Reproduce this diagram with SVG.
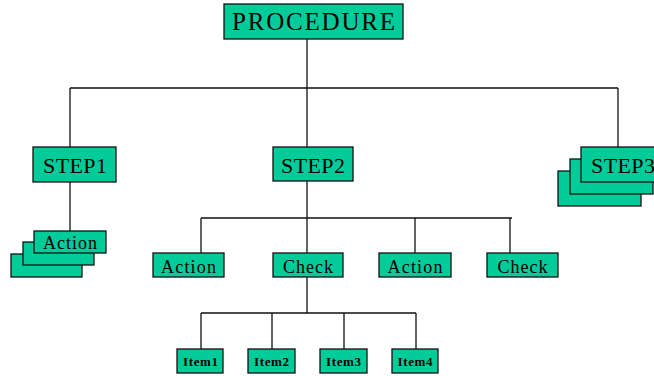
<svg xmlns="http://www.w3.org/2000/svg" width="654" height="376" viewBox="0 0 654 376">
<style>
.b{fill:#00cc99;stroke:#111;stroke-width:1.3}
.c{fill:none;stroke:#111;stroke-width:1.3}
text{font-family:"Liberation Serif","Times New Roman",serif;fill:#000;text-anchor:middle}
.t1{font-size:25px}
.t2{font-size:22px}
.t3{font-size:18px}
.t4{font-size:13px;font-weight:bold}
</style>
<rect width="654" height="376" fill="#fff"/>
<g id="connectors">
<path class="c" d="M307 39V88M70 88H618M70 88V147M307 88V147M618 88V147"/>
<path class="c" d="M70 182V231"/>
<path class="c" d="M307 181V218M201 218H512M201 218V253M307 218V253M415 218V253M510 218V253"/>
<path class="c" d="M307 277V313M201 313H416M201 313V349M272 313V349M344 313V349M416 313V349"/>
</g>
<g id="procedure"><rect class="b" x="224" y="4" width="179" height="35"/><text class="t1" x="313.5" y="30" textLength="163" lengthAdjust="spacing">PROCEDURE</text></g>
<g id="step1"><rect class="b" x="33" y="147" width="83" height="35"/><text class="t2" x="75" y="173" textLength="64" lengthAdjust="spacing">STEP1</text></g>
<g id="step2"><rect class="b" x="273" y="147" width="80" height="34"/><text class="t2" x="313" y="173" textLength="64" lengthAdjust="spacing">STEP2</text></g>
<g id="step3"><rect class="b" x="558" y="171" width="83" height="35"/><rect class="b" x="570" y="159" width="83" height="35"/><rect class="b" x="581" y="147" width="83" height="35"/><text class="t2" x="623" y="173" textLength="64" lengthAdjust="spacing">STEP3</text></g>
<g id="action-stack"><rect class="b" x="11" y="254" width="71" height="23"/><rect class="b" x="23" y="242" width="71" height="23"/><rect class="b" x="34" y="231" width="72" height="22"/><text class="t3" x="70" y="249" textLength="54" lengthAdjust="spacing">Action</text></g>
<g id="action1"><rect class="b" x="153" y="253" width="71" height="24"/><text class="t3" x="188.5" y="273" textLength="55" lengthAdjust="spacing">Action</text></g>
<g id="check1"><rect class="b" x="273" y="253" width="70" height="24"/><text class="t3" x="308" y="273" textLength="50" lengthAdjust="spacing">Check</text></g>
<g id="action2"><rect class="b" x="379" y="253" width="72" height="24"/><text class="t3" x="415" y="273" textLength="55" lengthAdjust="spacing">Action</text></g>
<g id="check2"><rect class="b" x="487" y="253" width="71" height="24"/><text class="t3" x="522.5" y="273" textLength="50" lengthAdjust="spacing">Check</text></g>
<g id="item1"><rect class="b" x="177" y="349" width="46" height="24"/><text class="t4" x="200.5" y="366" textLength="35" lengthAdjust="spacing">Item1</text></g>
<g id="item2"><rect class="b" x="248" y="349" width="47" height="24"/><text class="t4" x="271.5" y="366" textLength="35" lengthAdjust="spacing">Item2</text></g>
<g id="item3"><rect class="b" x="320" y="349" width="47" height="24"/><text class="t4" x="343.5" y="366" textLength="35" lengthAdjust="spacing">Item3</text></g>
<g id="item4"><rect class="b" x="392" y="349" width="46" height="24"/><text class="t4" x="415" y="366" textLength="35" lengthAdjust="spacing">Item4</text></g>
</svg>
